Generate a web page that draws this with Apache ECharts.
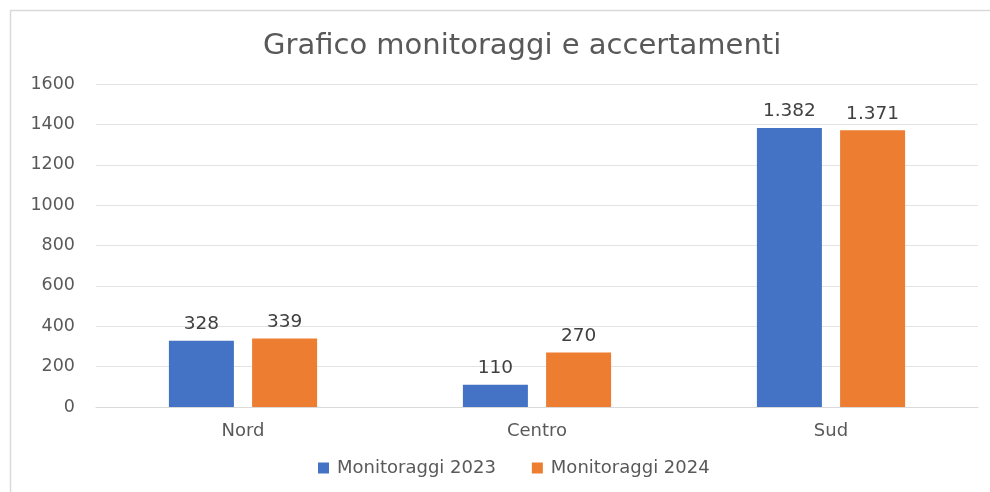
<!DOCTYPE html>
<html>
<head>
<meta charset="utf-8">
<script src="https://cdn.jsdelivr.net/npm/echarts@6/dist/echarts.min.js"></script>
<style>
  html, body { margin: 0; padding: 0; background: #fff; }
  #chart { width: 990px; height: 492px; }
</style>
</head>
<body>
<div id="chart"></div>
<script>
const categories = ["Nord", "Centro", "Sud"];
const monitoraggi2023 = [328, 110, 1382];
const monitoraggi2024 = [339, 270, 1371];
const seriesNames = ["Monitoraggi 2023", "Monitoraggi 2024"];

const textColor = "#595959";
const fontFamily = "'DejaVu Sans', sans-serif";

// Italian thousands separator: 1382 -> "1.382"
const formatIt = v => String(v).replace(/\B(?=(\d{3})+(?!\d))/g, ".");

const chart = echarts.init(document.getElementById("chart"));

const barLabel = {
  show: true,
  position: "top",
  distance: 7,
  color: "#404040",
  fontSize: 18.5,
  fontFamily,
  formatter: p => formatIt(p.value),
};

chart.setOption({
  animation: false,
  graphic: [
    {
      type: "rect",
      shape: { x: 10.5, y: 10.5, width: 1000, height: 500 },
      style: { fill: "none", stroke: "#d9d9d9", lineWidth: 1.5 },
      silent: true,
    },
  ],
  // the original chart box runs past the right edge, so its centre sits near x=517
  title: {
    text: "Grafico monitoraggi e accertamenti",
    left: 258,
    top: 27,
    textStyle: {
      color: textColor,
      fontSize: 29,
      fontWeight: "normal",
      fontFamily,
    },
  },
  legend: {
    bottom: 10,
    left: 313,
    itemWidth: 11,
    itemHeight: 11,
    itemGap: 36,
    icon: "rect",
    textStyle: { color: textColor, fontSize: 18, fontFamily, padding: [0, 0, 0, 3] },
    data: seriesNames,
  },
  grid: {
    top: 84,
    bottom: 85,
    left: 96,
    right: 12,
  },
  xAxis: {
    type: "category",
    data: categories,
    axisLine: { lineStyle: { color: "#d9d9d9" } },
    axisTick: { show: false },
    axisLabel: { color: textColor, fontSize: 18, fontFamily, margin: 15 },
  },
  yAxis: {
    type: "value",
    min: 0,
    max: 1600,
    interval: 200,
    axisLine: { show: false },
    axisTick: { show: false },
    axisLabel: { color: textColor, fontSize: 17.5, fontFamily, margin: 21, formatter: v => String(v) },
    splitLine: { lineStyle: { color: "#e3e3e3" } },
  },
  series: [
    {
      name: seriesNames[0],
      type: "bar",
      data: monitoraggi2023,
      barWidth: 65,
      barGap: "28%",
      itemStyle: { color: "#4472C4" },
      label: barLabel,
    },
    {
      name: seriesNames[1],
      type: "bar",
      data: monitoraggi2024,
      barWidth: 65,
      barGap: "28%",
      itemStyle: { color: "#ED7D31" },
      label: barLabel,
    },
  ],
});
</script>
</body>
</html>
